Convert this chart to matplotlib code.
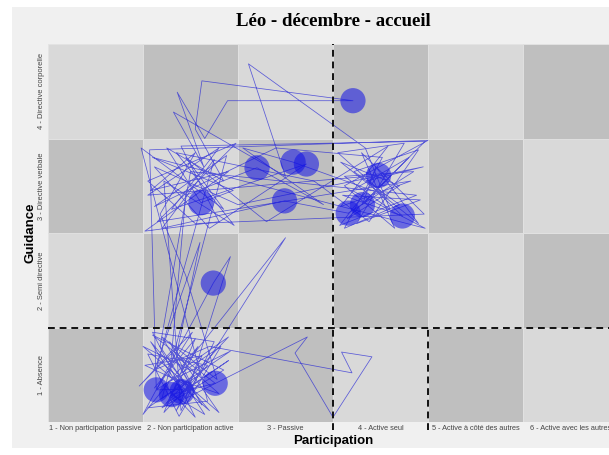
import matplotlib
matplotlib.use("Agg")
import matplotlib.pyplot as plt
from matplotlib.patches import Rectangle

title = "Léo - décembre - accueil"
x_labels = ["1 - Non participation passive", "2 - Non participation active", "3 - Passive",
            "4 - Active seul", "5 - Active à côté des autres", "6 - Active avec les autres"]
y_labels = ["1 - Absence", "2 - Semi directive", "3 - Directive verbale", "4 - Directive corporelle"]

path_x = [1.62, 2.05, 1.72, 2.18, 1.55, 1.88, 2.32, 1.64, 2.02, 1.46,
          1.80, 2.12, 1.70, 2.28, 1.95, 1.68, 2.05, 1.58, 2.40, 1.52,
          2.30, 1.90, 4.47, 3.65, 4.20, 3.58, 4.40, 3.95, 3.81, 4.30,
          3.70, 4.47, 1.60, 2.45, 2.11, 1.75, 2.35, 2.05, 2.12, 3.71,
          2.39, 2.15, 1.86, 2.14, 1.82, 3.00, 2.61, 3.84, 4.10, 3.62,
          4.35, 3.66, 2.99, 1.70, 2.25, 1.65, 2.20, 1.58, 1.91, 2.40,
          1.75, 2.08, 1.50, 2.24, 2.42, 1.95, 3.23, 3.10, 3.50, 3.91,
          3.59, 3.70, 2.20, 1.62, 2.10, 1.85, 2.30, 1.78, 1.95, 2.70,
          3.40, 2.55, 3.08, 4.05, 3.55, 4.25, 3.75, 4.42, 3.60, 4.23,
          3.85, 4.45, 2.50, 1.62, 2.20, 3.22, 1.80, 2.30, 1.55, 3.98,
          3.57, 4.38, 2.00, 1.68, 2.15, 1.80, 2.26, 1.60, 2.35, 1.70,
          2.40, 1.90, 3.00, 1.85, 2.12, 1.52, 2.05, 1.64,
          1.57, 4.50, 3.62, 4.15, 3.80, 4.46, 2.05, 1.55, 2.48, 1.65,
          4.32, 3.58, 4.08, 2.80, 1.95, 2.35, 1.48, 2.18, 1.55, 2.42,
          1.72, 2.05, 1.60, 2.25, 1.90, 1.72, 2.46, 1.85, 3.30, 3.88,
          4.40, 3.72, 4.20, 3.62, 4.02, 2.90, 1.62, 2.38, 1.70, 2.10,
          1.50, 2.30, 1.78, 2.00]
path_y = [0.86, 1.38, 0.60, 1.10, 1.22, 0.56, 1.30, 0.84, 1.45, 0.88,
          1.25, 0.68, 1.40, 0.95, 2.05, 2.70, 3.35, 2.95, 3.15, 2.52,
          2.62, 3.42, 3.47, 2.65, 3.00, 3.25, 2.60, 3.20, 2.80, 3.30,
          2.95, 2.55, 3.30, 2.95, 2.82, 3.40, 3.05, 3.60, 4.11, 3.90,
          3.90, 3.50, 3.99, 3.20, 3.78, 3.10, 4.29, 3.40, 2.75, 3.10,
          3.15, 2.71, 2.84, 2.55, 3.28, 1.10, 0.62, 1.35, 0.82, 1.15,
          0.70, 1.30, 0.58, 1.97, 2.25, 0.75, 1.40, 1.23, 0.55, 1.19,
          1.24, 1.02, 1.30, 1.05, 2.40, 1.20, 0.80, 0.98, 2.90, 3.19,
          2.80, 3.40, 3.25, 2.90, 3.35, 3.45, 2.60, 2.85, 2.90, 2.68,
          3.05, 3.20, 2.80, 3.20, 2.55, 3.23, 2.75, 3.40, 2.90, 3.11,
          2.58, 2.90, 3.15, 1.30, 0.58, 0.79, 0.91, 1.42, 1.05, 0.65,
          1.40, 1.05, 2.45, 0.62, 1.20, 1.10, 0.85, 0.84,
          3.38, 3.48, 3.00, 2.55, 3.35, 2.70, 2.60, 3.05, 3.45, 2.62,
          3.05, 2.78, 3.42, 2.62, 3.30, 2.75, 3.40, 0.72, 0.65, 1.25,
          0.90, 0.55, 1.45, 1.35, 0.62, 3.05, 2.58, 3.35, 3.05, 2.62,
          3.38, 3.15, 2.80, 2.55, 3.30, 3.40, 2.78, 3.32, 0.75, 1.00,
          1.30, 0.60, 1.35, 0.92]

circle_x = [3.71, 2.70, 3.08, 3.22, 2.11, 2.99, 3.98, 3.81, 3.66, 4.23, 2.24, 1.64, 1.80, 1.91, 2.26]
circle_y = [3.90, 3.19, 3.25, 3.23, 2.82, 2.84, 3.11, 2.80, 2.71, 2.68, 1.97, 0.84, 0.79, 0.82, 0.91]

fig = plt.figure(figsize=(6.09, 4.55), dpi=100, facecolor="white")
fig.patches.append(Rectangle((12 / 609, 7 / 455), 1, 441 / 455, transform=fig.transFigure,
                             facecolor="#f0f0f0", edgecolor="none", zorder=-10))

ax = fig.add_axes([48 / 609, 33 / 455, 570 / 609, 378 / 455])
ax.set_facecolor("none")
ax.set_xlim(0.5, 6.5)
ax.set_ylim(0.5, 4.5)
for s in ax.spines.values():
    s.set_visible(False)

for i in range(1, 7):
    for j in range(1, 5):
        col = "#bfbfbf" if (i + j) % 2 == 0 else "#d9d9d9"
        ax.add_patch(Rectangle((i - 0.5, j - 0.5), 1, 1, facecolor=col,
                               edgecolor="#e3e3e3", linewidth=0.6, zorder=0))

ax.plot(path_x, path_y, color="#2323d6", alpha=0.7, linewidth=0.55, zorder=3)
ax.scatter(circle_x, circle_y, s=330, color="#1010e6", alpha=0.55, edgecolors="none", zorder=4)

dash = dict(color="#111111", linestyle=(0, (3.5, 2.5)), linewidth=1.4, zorder=5, clip_on=False)
ax.plot([3.5, 3.5], [0.42, 4.5], **dash)
ax.plot([4.5, 4.5], [0.42, 1.5], **dash)
ax.plot([0.5, 6.5], [1.5, 1.5], **dash)

ax.set_xticks(range(1, 7))
ax.set_xticklabels(x_labels, fontsize=5.3, color="#444444", family="Liberation Sans")
ax.set_yticks(range(1, 5))
ax.set_yticklabels(y_labels, fontsize=5.4, color="#444444", family="Liberation Sans",
                   rotation=90, va="center")
ax.tick_params(length=0, pad=2)

ax.set_xlabel("Participation", fontsize=9.5, fontweight="bold", family="Liberation Sans", labelpad=1)
fig.text(30 / 609, 1 - 233 / 455, "Guidance", rotation=90, fontsize=9.5, fontweight="bold",
         family="Liberation Sans", ha="center", va="center")
ax.xaxis.set_label_coords(285 / 570, -13 / 378)

fig.text(333 / 609, 1 - 22 / 455, title, fontsize=13.5, fontweight="bold",
         family="Liberation Serif", ha="center", va="center")

fig.savefig("out.png", dpi=100, facecolor=fig.get_facecolor())
